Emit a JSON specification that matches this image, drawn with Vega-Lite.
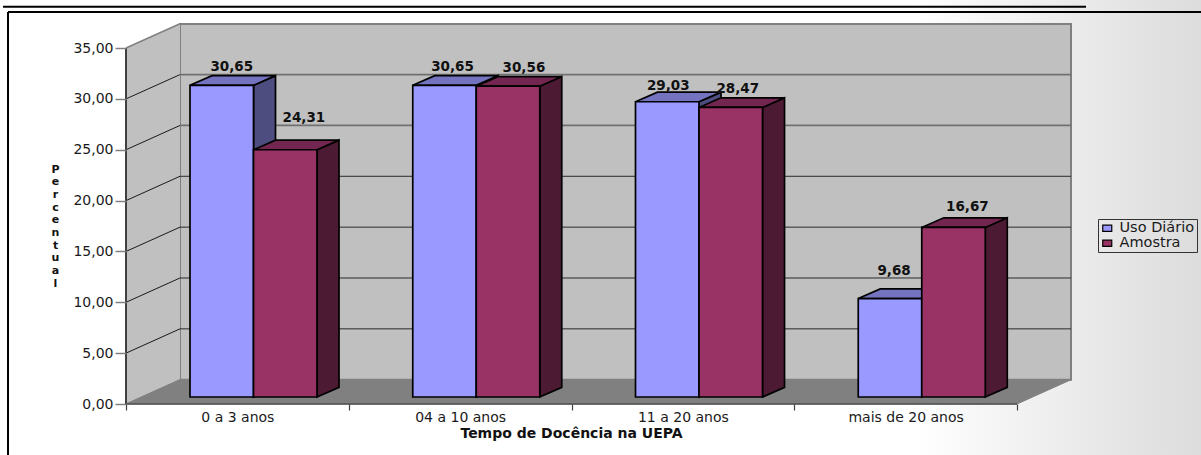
{
  "$schema": "https://vega.github.io/schema/vega-lite/v6.json",
  "width": 945,
  "height": 380,
  "autosize": {"type": "none"},
  "padding": {"left": 126, "top": 24, "right": 130, "bottom": 51},
  "background": "white",
  "config": {
    "view": {"stroke": null},
    "legend": {
      "orient": "none", "legendX": 972, "legendY": 195, "title": null,
      "strokeColor": "#333333", "padding": 2, "rowPadding": 0,
      "labelFont": "DejaVu Sans", "labelFontSize": 14.5, "labelColor": "#1a1a1a", "labelOffset": 5,
      "symbolType": "M-1,-0.7H1V0.7H-1Z", "symbolSize": 81, "symbolStrokeColor": "black", "symbolStrokeWidth": 1.2
    }
  },
  "data": {"values": [{"plano": "caixa"}]},
  "datasets": {
    "barras": [
      {"tempo": "0 a 3 anos", "serie": "Uso Diário", "valor": 30.65},
      {"tempo": "0 a 3 anos", "serie": "Amostra", "valor": 24.31},
      {"tempo": "04 a 10 anos", "serie": "Uso Diário", "valor": 30.65},
      {"tempo": "04 a 10 anos", "serie": "Amostra", "valor": 30.56},
      {"tempo": "11 a 20 anos", "serie": "Uso Diário", "valor": 29.03},
      {"tempo": "11 a 20 anos", "serie": "Amostra", "valor": 28.47},
      {"tempo": "mais de 20 anos", "serie": "Uso Diário", "valor": 9.68},
      {"tempo": "mais de 20 anos", "serie": "Amostra", "valor": 16.67}
    ],
    "grade": [
      {"valor": 0}, {"valor": 5}, {"valor": 10}, {"valor": 15},
      {"valor": 20}, {"valor": 25}, {"valor": 30}, {"valor": 35}
    ]
  },
  "layer": [
    {
      "description": "Page background, with the axes attached to it",
      "mark": {
        "type": "rect",
        "fill": {
          "gradient": "linear", "x1": 0, "x2": 1, "y1": 0, "y2": 0,
          "stops": [
            {"offset": 0, "color": "#ffffff"},
            {"offset": 0.76, "color": "#ffffff"},
            {"offset": 1, "color": "#dcdcdc"}
          ]
        }
      },
      "encoding": {
        "x": {
          "datum": -0.5657, "type": "quantitative", "scale": {"domain": [0, 4.2424]},
          "axis": {
            "values": [0, 0.5, 1, 1.5, 2, 2.5, 3, 3.5, 4],
            "zindex": 1, "domain": false, "grid": false,
            "tickSize": 6, "tickColor": "#404040", "tickWidth": 1.2,
            "tickOpacity": {"condition": {"test": "datum.value % 1 == 0", "value": 1}, "value": 0},
            "labelExpr": "datum.value % 1 == 0 ? '' : ['0 a 3 anos', '04 a 10 anos', '11 a 20 anos', 'mais de 20 anos'][floor(datum.value)]",
            "labelFont": "DejaVu Sans", "labelFontSize": 14, "labelColor": "#1a1a1a",
            "labelPadding": 0, "labelOverlap": false, "labelFlush": false, "labelBound": false,
            "title": "Tempo de Docência na UEPA",
            "titleFont": "DejaVu Sans", "titleFontSize": 14, "titleFontWeight": "bold", "titleColor": "#111111",
            "titleX": 445, "titleY": 29, "titleBaseline": "middle"
          }
        },
        "x2": {"datum": 4.826},
        "y": {
          "datum": 39.76, "type": "quantitative", "scale": {"domain": [0, 37.365]},
          "axis": {
            "values": [0, 5, 10, 15, 20, 25, 30, 35],
            "zindex": 1, "domain": false, "grid": false,
            "tickSize": 11, "tickColor": "#808080", "tickWidth": 1.5,
            "labelExpr": "replace(format(datum.value, '.2f'), '.', ',')",
            "labelFont": "DejaVu Sans", "labelFontSize": 14, "labelColor": "#1a1a1a",
            "labelPadding": 2,
            "title": ["P", "e", "r", "c", "e", "n", "t", "u", "a", "l"],
            "titleFont": "DejaVu Sans", "titleFontSize": 11, "titleFontWeight": "bold", "titleColor": "#111111",
            "titleAngle": 0, "titleAlign": "center", "titleBaseline": "top", "titleLineHeight": 12.7,
            "titleX": -71, "titleY": 139
          }
        },
        "y2": {"datum": -5.02}
      }
    },
    {
      "description": "Rules framing the page",
      "mark": {"type": "rule", "color": "black", "strokeWidth": 2},
      "encoding": {
        "x": {"datum": -0.5522, "type": "quantitative", "scale": {"domain": [0, 4.2424]}},
        "x2": {"datum": 4.3098},
        "y": {"datum": 39.07, "type": "quantitative", "scale": {"domain": [0, 37.365]}}
      }
    },
    {
      "mark": {"type": "rule", "color": "black", "strokeWidth": 2},
      "encoding": {
        "x": {"datum": -0.5297, "type": "quantitative", "scale": {"domain": [0, 4.2424]}},
        "x2": {"datum": 4.826},
        "y": {"datum": 38.55, "type": "quantitative", "scale": {"domain": [0, 37.365]}}
      }
    },
    {
      "mark": {"type": "rule", "color": "black", "strokeWidth": 2},
      "encoding": {
        "x": {"datum": -0.5297, "type": "quantitative", "scale": {"domain": [0, 4.2424]}},
        "y": {"datum": 38.55, "type": "quantitative", "scale": {"domain": [0, 37.365]}},
        "y2": {"datum": -5.02}
      }
    },
    {
      "description": "Back wall of the 3D box",
      "mark": {"type": "rect", "fill": "#c0c0c0", "stroke": "#808080", "strokeWidth": 2},
      "encoding": {
        "x": {"datum": 0.2424, "type": "quantitative", "scale": {"domain": [0, 4.2424]}},
        "x2": {"datum": 4.2424},
        "y": {"datum": 37.365, "type": "quantitative", "scale": {"domain": [0, 37.365]}},
        "y2": {"datum": 2.39}
      }
    },
    {
      "description": "Left wall of the 3D box",
      "transform": [
        {"calculate": "[0, 0.2424]", "as": "a"},
        {"calculate": "[35, 37.39]", "as": "t"},
        {"calculate": "[0, 2.39]", "as": "b"},
        {"flatten": ["a", "t", "b"]}
      ],
      "mark": {"type": "area", "fill": "#c0c0c0"},
      "encoding": {
        "x": {"field": "a", "type": "quantitative", "scale": {"domain": [0, 4.2424]}},
        "y": {"field": "t", "type": "quantitative", "scale": {"domain": [0, 37.365]}},
        "y2": {"field": "b"}
      }
    },
    {
      "description": "Floor of the 3D box",
      "transform": [
        {"calculate": "[0, 0.2424, 4, 4.2424]", "as": "a"},
        {"calculate": "[0, 2.39, 2.39, 2.39]", "as": "t"},
        {"calculate": "[0, 0, 0, 2.39]", "as": "b"},
        {"flatten": ["a", "t", "b"]}
      ],
      "mark": {"type": "area", "fill": "#808080", "stroke": "#808080", "strokeWidth": 1},
      "encoding": {
        "x": {"field": "a", "type": "quantitative", "scale": {"domain": [0, 4.2424]}},
        "y": {"field": "t", "type": "quantitative", "scale": {"domain": [0, 37.365]}},
        "y2": {"field": "b"}
      }
    },
    {
      "description": "Gridlines running along the back wall",
      "data": {"name": "grade"},
      "transform": [
        {"filter": "datum.valor > 0 && datum.valor < 35"},
        {"calculate": "datum.valor + 2.39", "as": "fundo"},
        {"calculate": "0.2424", "as": "a0"},
        {"calculate": "4.2424", "as": "a1"}
      ],
      "mark": {"type": "rule"},
      "encoding": {
        "x": {"field": "a0", "type": "quantitative", "scale": {"domain": [0, 4.2424]}},
        "x2": {"field": "a1"},
        "y": {"field": "fundo", "type": "quantitative", "scale": {"domain": [0, 37.365]}},
        "strokeWidth": {"condition": {"test": "datum.valor >= 25", "value": 1.8}, "value": 1},
        "color": {"condition": {"test": "datum.valor >= 25", "value": "#707070"}, "value": "#2a2a2a"}
      }
    },
    {
      "description": "Gridlines climbing across the left wall",
      "data": {"name": "grade"},
      "transform": [
        {"calculate": "[0, 1]", "as": "p"},
        {"flatten": ["p"]},
        {"calculate": "datum.p * 0.2424", "as": "a"},
        {"calculate": "datum.valor + datum.p * 2.39", "as": "h"}
      ],
      "mark": {"type": "line"},
      "encoding": {
        "x": {"field": "a", "type": "quantitative", "scale": {"domain": [0, 4.2424]}},
        "y": {"field": "h", "type": "quantitative", "scale": {"domain": [0, 37.365]}},
        "detail": {"field": "valor"},
        "strokeWidth": {"condition": {"test": "datum.valor == 35", "value": 1.5}, "value": 1},
        "color": {"condition": {"test": "datum.valor == 35 || datum.valor == 0", "value": "#808080"}, "value": "#1a1a1a"}
      }
    },
    {
      "description": "Left edge and baseline of the front plane",
      "mark": {"type": "rule", "color": "#404040", "strokeWidth": 2},
      "encoding": {
        "x": {"datum": 0, "type": "quantitative", "scale": {"domain": [0, 4.2424]}},
        "y": {"datum": 0, "type": "quantitative", "scale": {"domain": [0, 37.365]}},
        "y2": {"datum": 35}
      }
    },
    {
      "mark": {"type": "rule", "color": "#505050", "strokeWidth": 1.5},
      "encoding": {
        "x": {"datum": 0, "type": "quantitative", "scale": {"domain": [0, 4.2424]}},
        "x2": {"datum": 4},
        "y": {"datum": 0, "type": "quantitative", "scale": {"domain": [0, 37.365]}}
      }
    },
    {
      "description": "The bars: box corners come from each row's category, series and value",
      "data": {"name": "barras"},
      "transform": [
        {"calculate": "indexof(['0 a 3 anos', '04 a 10 anos', '11 a 20 anos', 'mais de 20 anos'], datum.tempo)", "as": "i"},
        {"calculate": "datum.serie == 'Uso Diário' ? 0 : 1", "as": "s"},
        {"calculate": "datum.i + 0.2873 + datum.s * 0.2851", "as": "xl"},
        {"calculate": "datum.xl + 0.2851", "as": "xr"},
        {"calculate": "0.688", "as": "base"},
        {"calculate": "datum.valor + datum.base", "as": "topo"}
      ],
      "layer": [
        {
          "transform": [
            {"filter": "datum.s == 0"},
            {"calculate": "[0, 1]", "as": "p"},
            {"flatten": ["p"]},
            {"calculate": "datum.xr + datum.p * 0.0988", "as": "a"},
            {"calculate": "datum.topo + datum.p * 0.95", "as": "t"},
            {"calculate": "datum.base + datum.p * 0.95", "as": "b"}
          ],
          "mark": {"type": "area", "fill": "#4d4d80", "stroke": "black", "strokeWidth": 1.7},
          "encoding": {
            "x": {"field": "a", "type": "quantitative", "scale": {"domain": [0, 4.2424]}},
            "y": {"field": "t", "type": "quantitative", "scale": {"domain": [0, 37.365]}},
            "y2": {"field": "b"},
            "detail": {"field": "tempo"}
          }
        },
        {
          "transform": [
            {"filter": "datum.s == 0"},
            {"calculate": "[datum.xl, datum.xl + 0.0988, datum.xr, datum.xr + 0.0988]", "as": "a"},
            {"calculate": "[datum.topo, datum.topo + 0.95, datum.topo + 0.95, datum.topo + 0.95]", "as": "t"},
            {"calculate": "[datum.topo, datum.topo, datum.topo, datum.topo + 0.95]", "as": "b"},
            {"flatten": ["a", "t", "b"]}
          ],
          "mark": {"type": "area", "fill": "#7373bf", "stroke": "black", "strokeWidth": 1.7},
          "encoding": {
            "x": {"field": "a", "type": "quantitative", "scale": {"domain": [0, 4.2424]}},
            "y": {"field": "t", "type": "quantitative", "scale": {"domain": [0, 37.365]}},
            "y2": {"field": "b"},
            "detail": {"field": "tempo"}
          }
        },
        {
          "transform": [
            {"filter": "datum.s == 1"},
            {"calculate": "[0, 1]", "as": "p"},
            {"flatten": ["p"]},
            {"calculate": "datum.xr + datum.p * 0.0988", "as": "a"},
            {"calculate": "datum.topo + datum.p * 0.95", "as": "t"},
            {"calculate": "datum.base + datum.p * 0.95", "as": "b"}
          ],
          "mark": {"type": "area", "fill": "#4d1a33", "stroke": "black", "strokeWidth": 1.7},
          "encoding": {
            "x": {"field": "a", "type": "quantitative", "scale": {"domain": [0, 4.2424]}},
            "y": {"field": "t", "type": "quantitative", "scale": {"domain": [0, 37.365]}},
            "y2": {"field": "b"},
            "detail": {"field": "tempo"}
          }
        },
        {
          "transform": [
            {"filter": "datum.s == 1"},
            {"calculate": "[datum.xl, datum.xl + 0.0988, datum.xr, datum.xr + 0.0988]", "as": "a"},
            {"calculate": "[datum.topo, datum.topo + 0.95, datum.topo + 0.95, datum.topo + 0.95]", "as": "t"},
            {"calculate": "[datum.topo, datum.topo, datum.topo, datum.topo + 0.95]", "as": "b"},
            {"flatten": ["a", "t", "b"]}
          ],
          "mark": {"type": "area", "fill": "#732650", "stroke": "black", "strokeWidth": 1.7},
          "encoding": {
            "x": {"field": "a", "type": "quantitative", "scale": {"domain": [0, 4.2424]}},
            "y": {"field": "t", "type": "quantitative", "scale": {"domain": [0, 37.365]}},
            "y2": {"field": "b"},
            "detail": {"field": "tempo"}
          }
        },
        {
          "mark": {"type": "rect", "stroke": "black", "strokeWidth": 1.7},
          "encoding": {
            "x": {"field": "xl", "type": "quantitative", "scale": {"domain": [0, 4.2424]}},
            "x2": {"field": "xr"},
            "y": {"field": "topo", "type": "quantitative", "scale": {"domain": [0, 37.365]}},
            "y2": {"field": "base"},
            "fill": {
              "field": "serie", "type": "nominal",
              "scale": {"domain": ["Uso Diário", "Amostra"], "range": ["#9999ff", "#993366"]},
              "legend": {}
            }
          }
        },
        {
          "description": "Value labels, each nudged clear of its neighbour",
          "transform": [
            {"calculate": "(datum.xl + datum.xr + 0.0988) / 2 + [[-0.0045, 0.034], [-0.0135, 0.022], [-0.045, -0.018], [-0.031, 0.013]][datum.i][datum.s]", "as": "rx"},
            {"calculate": "datum.topo + 0.95 + [[0.875, 2.2], [0.875, 0.865], [0.62, 0.895], [1.79, 1.09]][datum.i][datum.s]", "as": "ry"},
            {"calculate": "replace(format(datum.valor, '.2f'), '.', ',')", "as": "rotulo"}
          ],
          "mark": {"type": "text", "font": "DejaVu Sans", "fontSize": 13.5, "fontWeight": "bold", "color": "#111111", "baseline": "middle", "align": "center"},
          "encoding": {
            "x": {"field": "rx", "type": "quantitative", "scale": {"domain": [0, 4.2424]}},
            "y": {"field": "ry", "type": "quantitative", "scale": {"domain": [0, 37.365]}},
            "text": {"field": "rotulo"}
          }
        }
      ]
    }
  ]
}
